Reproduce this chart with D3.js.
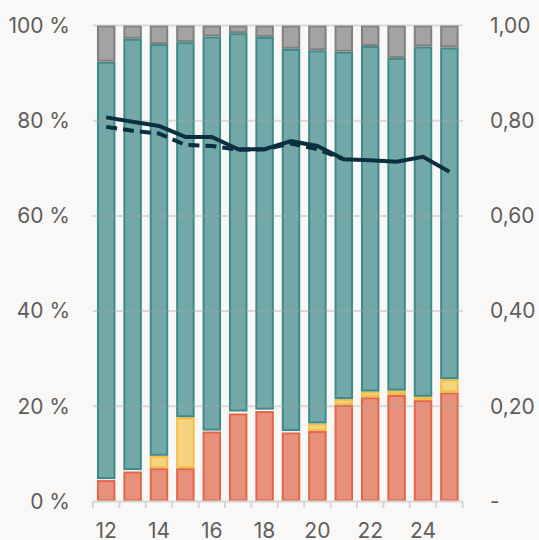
<!DOCTYPE html>
<html><head><meta charset="utf-8">
<script src="https://cdn.jsdelivr.net/npm/d3@7"></script>
<style>
html,body{margin:0;padding:0;background:#f9f8f6;}
svg{display:block;}
text{font-family:Inter,"Noto Sans",sans-serif;font-weight:400;}
</style></head>
<body>
<svg id="chart" width="539" height="540"></svg>
<script>
const years = ["12","13","14","15","16","17","18","19","20","21","22","23","24","25"];
const redVals    = [4.5, 6.3, 7.0, 7.0, 14.7, 18.5, 19.0, 14.5, 14.8, 20.3, 21.9, 22.4, 21.3, 22.9];
const yellowVals = [0.2, 0.3, 2.6, 10.7, 0.2, 0.4, 0.3, 0.3, 1.6, 1.2, 1.2, 0.9, 0.7, 2.8];
const tealTops   = [92.4, 97.2, 96.1, 96.5, 97.7, 98.4, 97.6, 95.1, 94.8, 94.5, 95.7, 93.2, 95.6, 95.4];
const solidLine  = [0.807, 0.798, 0.789, 0.766, 0.766, 0.740, 0.740, 0.757, 0.747, 0.719, 0.717, 0.714, 0.724, 0.693];
const dashedLine = [0.787, 0.779, 0.773, 0.749, 0.747, 0.739, 0.740, 0.752, 0.740, 0.719];
const leftTicks  = [0, 20, 40, 60, 80, 100];
const leftLabels = ["0 %", "20 %", "40 %", "60 %", "80 %", "100 %"];
const rightLabels = ["-", "0,20", "0,40", "0,60", "0,80", "1,00"];
const xLabelYears = ["12","14","16","18","20","22","24"];

const svg = d3.select("#chart");
const x = d3.scaleBand().domain(years).range([93, 462.6]).paddingInner(0.3).paddingOuter(0.15);
const y = d3.scaleLinear().domain([0, 100]).range([501.5, 25.5]);
const yR = d3.scaleLinear().domain([0, 1]).range([501.5, 25.5]);

const stacks = years.map((yr, i) => {
  const r = redVals[i], yl = r + yellowVals[i], t = tealTops[i];
  return [
    {yr, y0: 0, y1: r, fill: "#e8917a", stroke: "#e2674a"},
    {yr, y0: r, y1: yl, fill: "#f6d37f", stroke: "#f3be45"},
    {yr, y0: yl, y1: t, fill: "#72a9a8", stroke: "#3e8a88"},
    {yr, y0: t, y1: 100, fill: "#a3a3a3", stroke: "#808080"}
  ];
}).flat();

const sw = 2;
svg.append("g").selectAll("rect").data(stacks).join("rect")
  .attr("x", d => x(d.yr) + sw/2)
  .attr("width", x.bandwidth() - sw)
  .attr("y", d => y(d.y1) + sw/2)
  .attr("height", d => Math.max(0, y(d.y0) - y(d.y1) - sw))
  .attr("fill", d => d.fill)
  .attr("stroke", d => d.stroke)
  .attr("stroke-width", sw);

// gridlines over bars
svg.append("g").selectAll("line").data(leftTicks.filter(t => t > 0)).join("line")
  .attr("x1", 93).attr("x2", 463)
  .attr("y1", d => y(d)).attr("y2", d => y(d))
  .attr("stroke", "rgba(160,160,160,0.35)").attr("stroke-width", 2);

// x axis
const xAxis = svg.append("g");
xAxis.append("line").attr("x1", 93).attr("x2", 463).attr("y1", 501.5).attr("y2", 501.5)
  .attr("stroke", "#d6d6d6").attr("stroke-width", 2);
const bounds = years.map(yr => x(yr) - x.step()*x.paddingInner()/2);
bounds.push(x(years[years.length-1]) + x.bandwidth() + x.step()*x.paddingInner()/2);
xAxis.selectAll("line.tk").data(bounds).join("line").attr("class","tk")
  .attr("x1", d => d).attr("x2", d => d).attr("y1", 501.5).attr("y2", 508)
  .attr("stroke", "#d6d6d6").attr("stroke-width", 2);
xAxis.selectAll("text").data(xLabelYears).join("text")
  .attr("x", d => x(d) + x.bandwidth()/2).attr("y", 538)
  .attr("text-anchor", "middle").attr("font-size", 21).attr("fill", "#5e5e5e")
  .text(d => d);

// left axis labels
svg.append("g").selectAll("text").data(leftTicks).join("text")
  .attr("x", 70).attr("y", d => y(d)).attr("dy", "0.35em")
  .attr("text-anchor", "end").attr("font-size", 21).attr("fill", "#5e5e5e")
  .text((d, i) => leftLabels[i]);

// right axis labels
svg.append("g").selectAll("text").data(leftTicks).join("text")
  .attr("x", 490).attr("y", d => y(d)).attr("dy", "0.35em")
  .attr("text-anchor", "start").attr("font-size", 21).attr("fill", "#5e5e5e")
  .text((d, i) => rightLabels[i]);

// lines
const cx = yr => x(yr) + x.bandwidth()/2;
const lineGen = d3.line().x(d => cx(d[0])).y(d => yR(d[1]));
svg.append("path").datum(dashedLine.map((v, i) => [years[i], v]))
  .attr("d", lineGen).attr("fill", "none").attr("stroke", "#0b2f40")
  .attr("stroke-width", 4).attr("stroke-dasharray", "11,6");
svg.append("path").datum(solidLine.map((v, i) => [years[i], v]))
  .attr("d", lineGen).attr("fill", "none").attr("stroke", "#0b2f40")
  .attr("stroke-width", 4);
</script>
</body></html>
